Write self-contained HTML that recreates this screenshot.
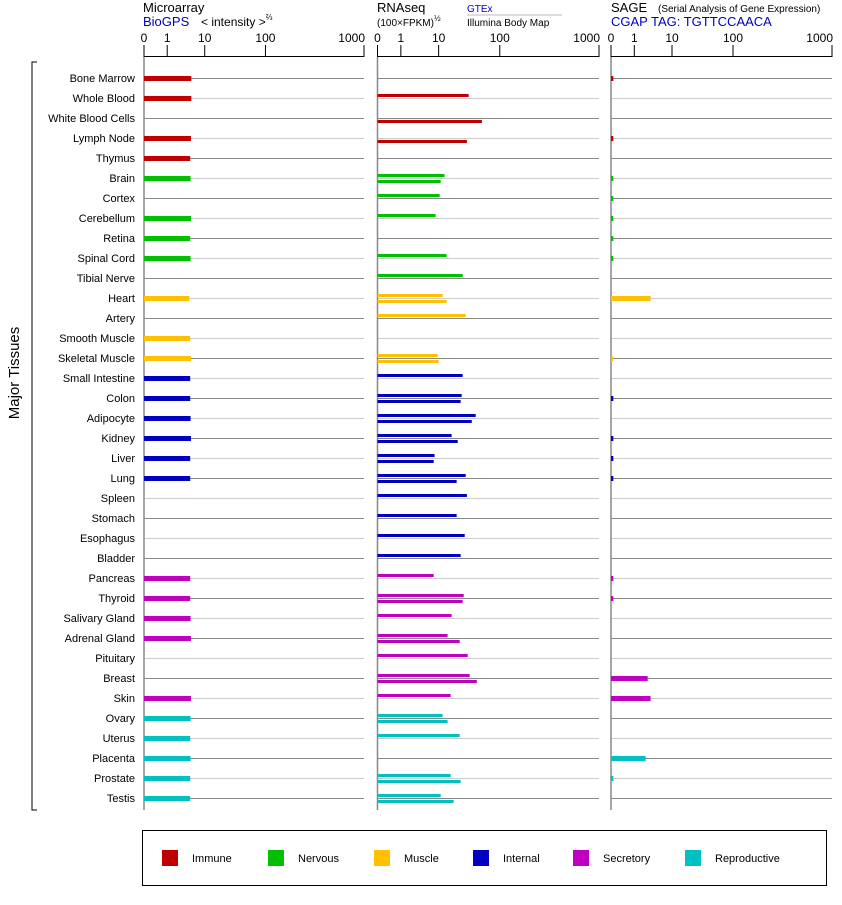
<!DOCTYPE html>
<html><head><meta charset="utf-8">
<style>
body{margin:0;background:#fff;font-family:"Liberation Sans",sans-serif;}
svg text{font-family:"Liberation Sans",sans-serif;}
</style></head>
<body>
<svg id="chart" width="842" height="900" viewBox="0 0 842 900" xmlns="http://www.w3.org/2000/svg">
  <g>
    <text x="143" y="12" font-size="13">Microarray</text>
    <text x="143" y="26" font-size="13" fill="#0000c0">BioGPS</text>
    <text x="201" y="26" font-size="12">&lt; intensity &gt;<tspan font-size="8" dy="-6">⅔</tspan></text>
    <text x="377" y="12" font-size="13">RNAseq</text>
    <text x="377" y="26" font-size="10">(100×FPKM)<tspan font-size="8" dy="-5">½</tspan></text>
    <text x="467" y="12" font-size="10" fill="#0000c0">GTEx</text>
    <line x1="467" y1="15" x2="562" y2="15" stroke="#bbb" stroke-width="1"/>
    <text x="467" y="26" font-size="10">Illumina Body Map</text>
    <text x="611" y="12" font-size="13">SAGE</text>
    <text x="658" y="12" font-size="10">(Serial Analysis of Gene Expression)</text>
    <text x="611" y="26" font-size="13" fill="#0000c0">CGAP TAG: TGTTCCAACA</text>
  </g>
  <g id="bracket">
    <path d="M37 62 H32 V810 H37" fill="none" stroke="#000" stroke-width="1"/>
  </g>
  <text x="19" y="373" font-size="15" text-anchor="middle" transform="rotate(-90 19 373)">Major Tissues</text>
  <g id="plot"></g>
  <g>
    <rect x="142.5" y="830.5" width="684" height="55" fill="none" stroke="#000"/>
  </g>
  <g id="legend-items"></g>
</svg>
<script>
const tissues = ["Bone Marrow","Whole Blood","White Blood Cells","Lymph Node","Thymus","Brain","Cortex","Cerebellum","Retina","Spinal Cord","Tibial Nerve","Heart","Artery","Smooth Muscle","Skeletal Muscle","Small Intestine","Colon","Adipocyte","Kidney","Liver","Lung","Spleen","Stomach","Esophagus","Bladder","Pancreas","Thyroid","Salivary Gland","Adrenal Gland","Pituitary","Breast","Skin","Ovary","Uterus","Placenta","Prostate","Testis"];
const groups = [0,0,0,0,0,1,1,1,1,1,1,2,2,2,2,3,3,3,3,3,3,3,3,3,3,4,4,4,4,4,4,4,5,5,5,5,5];
const groupNames = ["Immune","Nervous","Muscle","Internal","Secretory","Reproductive"];
const groupColors = ["#c00000","#00c000","#ffc000","#0000c0","#c000c0","#00c0c0"];
const microarray = [4.4,4.4,null,4.3,4.1,4.2,null,4.3,4.1,4.2,null,3.9,null,4.1,4.3,4.1,4.1,4.2,4.3,4.1,4.1,null,null,null,null,4.1,4.1,4.2,4.3,null,null,4.3,4.2,4.1,4.2,4.1,4.1];
const gtex = [null,31,null,null,null,12.5,10.4,8.3,null,13.5,24.7,11.6,27.7,null,9.4,24.7,23.8,40.4,16.3,7.8,27.7,29,19.7,26.7,22.9,7.4,25.7,16.3,14,29.9,32.2,15.7,11.6,22.1,null,15.7,10.8];
const illumina = [null,null,51,29,null,10.8,null,null,null,null,null,13.5,null,null,10,null,22.9,34.8,20.5,7.4,19.7,null,null,null,null,null,24.7,null,22.1,null,42,null,14,null,null,22.9,17.6];
const sage = [0.1,null,null,0.1,null,0.1,0.1,0.1,0.1,0.1,null,2.7,null,null,0.1,null,0.1,null,0.1,0.1,0.1,null,null,null,null,0.1,0.1,null,null,null,2.26,2.7,null,null,2.0,0.1,null];
const tickLabels = ["0","1","10","100","1000"];
const tickValues = [0,1,10,100,1000];

const NS="http://www.w3.org/2000/svg";
const plot=document.getElementById('plot');
const panels=[{x0:144,w:220,name:'microarray'},{x0:377.5,w:221.5,name:'rnaseq'},{x0:611,w:221,name:'sage'}];
const tickOff=[0,23.3/221,61/221,122/221,1];
function scale(p,v){
  let f;
  if(v<=0) f=0;
  else if(v<=1) f=tickOff[1]*v;
  else{const l=Math.min(3,Math.log10(v));const i=Math.min(2,Math.floor(l));f=tickOff[i+1]+(tickOff[i+2]-tickOff[i+1])*(l-i);}
  return p.x0+f*p.w;
}
function rowY(i){return 78+20*i;}
function el(tag,attrs){const e=document.createElementNS(NS,tag);for(const k in attrs)e.setAttribute(k,attrs[k]);plot.appendChild(e);return e;}

tissues.forEach((t,i)=>{
  const y=rowY(i);
  const lab=el('text',{x:135,y:y+4,'font-size':11,'text-anchor':'end'});
  lab.textContent=t;
  
  
  panels.forEach(p=>{
    const g=el('line',{x1:p.x0,x2:p.x0+p.w,y1:y+0.5,y2:y+0.5,stroke:i%2?'#cccccc':'#888888','stroke-width':1});
    
    
  });
});
panels.forEach(p=>{
  const ax=el('line',{x1:p.x0,x2:p.x0+p.w,y1:56.5,y2:56.5,stroke:'#000','stroke-width':1});
  
  
  const vx=el('line',{x1:p.x0,x2:p.x0,y1:57,y2:810,stroke:'#888','stroke-width':1.5});
  
  
  tickValues.forEach((v,k)=>{
    const x=scale(p,v);
    const tk=el('line',{x1:x,x2:x,y1:45,y2:57,stroke:'#000','stroke-width':1});
    
    
    const tl=el('text',{x:k===4?x+1:x,y:42,'font-size':12,'text-anchor':k===4?'end':'middle'});
    tl.textContent=tickLabels[k];
    
    
  });
});
function drawThick(p,vals,nm){
  vals.forEach((v,i)=>{
    if(v==null)return;
    const x1=scale(p,v),y=rowY(i);
    const r=el('rect',{x:p.x0,y:y-2,width:Math.max(1.5,x1-p.x0),height:5,fill:groupColors[groups[i]]});
    
    
  });
}
drawThick(panels[0],microarray,'microarray');
drawThick(panels[2],sage,'sage');
[[gtex,-4,'gtex'],[illumina,2,'illumina']].forEach(([vals,dy,nm])=>{
  const p=panels[1];
  vals.forEach((v,i)=>{
    if(v==null)return;
    const r=el('rect',{x:p.x0,y:rowY(i)+dy,width:scale(p,v)-p.x0,height:3,fill:groupColors[groups[i]]});
    
    
  });
});
const lg=document.getElementById('legend-items');
const legendX=[162,268,374,473,573,685];
groupNames.forEach((n,k)=>{
  const s=document.createElementNS(NS,'rect');
  s.setAttribute('x',legendX[k]);s.setAttribute('y',850);s.setAttribute('width',16);s.setAttribute('height',16);s.setAttribute('fill',groupColors[k]);
  
  
  lg.appendChild(s);
  const t=document.createElementNS(NS,'text');
  t.setAttribute('x',legendX[k]+30);t.setAttribute('y',862);t.setAttribute('font-size',11);
  t.textContent=n;
  
  
  lg.appendChild(t);
});
</script>
</body></html>
